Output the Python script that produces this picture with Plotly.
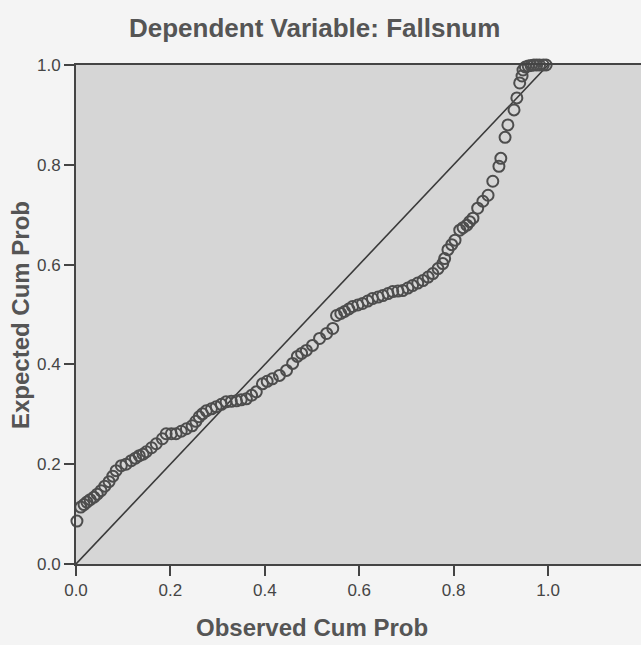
import plotly.graph_objects as go

# Normal P-P plot of regression standardized residual
observed = [0.002, 0.010, 0.017, 0.023, 0.030, 0.038, 0.045, 0.053, 0.061, 0.070,
            0.078, 0.085, 0.096, 0.106, 0.117, 0.126, 0.134, 0.142, 0.149, 0.160,
            0.170, 0.183, 0.191, 0.202, 0.212, 0.223, 0.234, 0.246, 0.254, 0.261,
            0.268, 0.276, 0.287, 0.297, 0.308, 0.318, 0.329, 0.340, 0.350, 0.361,
            0.372, 0.382, 0.395, 0.405, 0.416, 0.431, 0.446, 0.459, 0.469, 0.478,
            0.488, 0.501, 0.516, 0.531, 0.544, 0.552, 0.561, 0.569, 0.578, 0.586,
            0.597, 0.607, 0.618, 0.628, 0.640, 0.650, 0.661, 0.671, 0.682, 0.692,
            0.703, 0.713, 0.724, 0.735, 0.746, 0.756, 0.767, 0.777, 0.781, 0.788,
            0.796, 0.803, 0.813, 0.820, 0.828, 0.834, 0.841, 0.851, 0.862, 0.873,
            0.883, 0.896, 0.900, 0.909, 0.915, 0.928, 0.934, 0.940, 0.945, 0.947,
            0.952, 0.958, 0.964, 0.970, 0.976, 0.982, 0.990, 0.996]
expected = [0.086, 0.114, 0.119, 0.124, 0.129, 0.134, 0.140, 0.147, 0.156, 0.165,
            0.176, 0.187, 0.197, 0.200, 0.207, 0.212, 0.217, 0.220, 0.225, 0.233,
            0.241, 0.251, 0.261, 0.261, 0.261, 0.266, 0.271, 0.277, 0.286, 0.295,
            0.301, 0.307, 0.311, 0.315, 0.320, 0.325, 0.326, 0.327, 0.329, 0.331,
            0.338, 0.345, 0.361, 0.366, 0.371, 0.378, 0.388, 0.402, 0.416, 0.422,
            0.428, 0.438, 0.452, 0.462, 0.472, 0.498, 0.502, 0.506, 0.511, 0.516,
            0.519, 0.522, 0.527, 0.532, 0.535, 0.538, 0.542, 0.546, 0.547, 0.548,
            0.553, 0.558, 0.563, 0.568, 0.575, 0.582, 0.592, 0.602, 0.612, 0.630,
            0.640, 0.649, 0.669, 0.674, 0.679, 0.686, 0.693, 0.713, 0.727, 0.739,
            0.767, 0.797, 0.813, 0.855, 0.880, 0.910, 0.934, 0.964, 0.978, 0.990,
            0.996, 0.998, 0.999, 1.000, 1.000, 1.000, 1.000, 1.000]

ref_line = [0.0, 1.0]
ticks = [0.0, 0.2, 0.4, 0.6, 0.8, 1.0]

FONT = "Arial, 'Liberation Sans', sans-serif"
AX = "#444444"

fig = go.Figure()

# diagonal reference line
fig.add_trace(go.Scatter(
    x=ref_line, y=ref_line, mode="lines",
    line=dict(color="#3a3a3a", width=1.6),
    hoverinfo="skip", showlegend=False,
))

# points
fig.add_trace(go.Scatter(
    x=observed, y=expected, mode="markers",
    marker=dict(symbol="circle-open", size=11, color="#4d4d4d", line=dict(width=2)),
    cliponaxis=False, showlegend=False,
))

fig.update_xaxes(
    range=[0, 1.197], tickvals=ticks, tickformat=".1f",
    showgrid=False, zeroline=False,
    showline=True, linecolor=AX, linewidth=1.8, mirror=True,
    ticks="outside", ticklen=10, tickwidth=1.8, tickcolor=AX,
    tickfont=dict(family=FONT, size=17, color="#454545"),
)
fig.update_yaxes(
    range=[0, 1.0], tickvals=ticks, tickformat=".1f",
    showgrid=False, zeroline=False,
    showline=True, linecolor=AX, linewidth=1.8,
    ticks="outside", ticklen=10, tickwidth=1.8, tickcolor=AX,
    tickfont=dict(family=FONT, size=17, color="#454545"),
)

fig.update_layout(
    width=641, height=645,
    margin=dict(l=76, r=0, t=65, b=81),
    paper_bgcolor="#f4f4f4",
    plot_bgcolor="#d6d6d6",
    font=dict(family=FONT, color="#555555"),
    annotations=[
        dict(text="<b>Dependent Variable: Fallsnum</b>", xref="paper", yref="paper",
             x=0.423, y=1.074, xanchor="center", yanchor="middle", showarrow=False,
             font=dict(size=26, color="#555555")),
        dict(text="<b>Observed Cum Prob</b>", xref="paper", yref="paper",
             x=0.418, y=-0.128, xanchor="center", yanchor="middle", showarrow=False,
             font=dict(size=24, color="#555555")),
        dict(text="<b>Expected Cum Prob</b>", xref="paper", yref="paper",
             x=-0.0973, y=0.499, xanchor="center", yanchor="middle", showarrow=False,
             textangle=-90, font=dict(size=24, color="#555555")),
    ],
)

fig.write_html("out.html", config={"displayModeBar": False},
               post_script="document.body.style.margin='0';")
